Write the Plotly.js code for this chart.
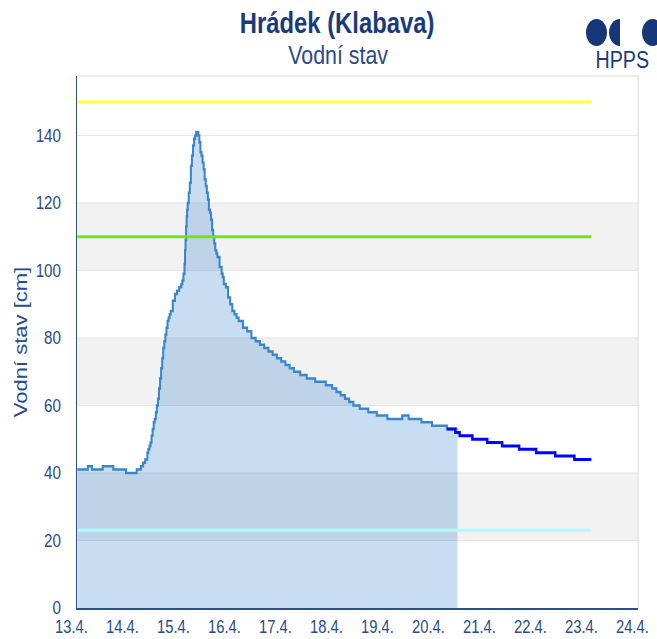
<!DOCTYPE html>
<html><head><meta charset="utf-8">
<script src="https://cdn.plot.ly/plotly-3.0.1.min.js"></script>
<style>html,body{margin:0;padding:0;background:#fff;overflow:hidden;width:657px;height:639px}
#chart{width:800px;height:639px;transform:scaleX(0.82125);transform-origin:0 0}</style>
</head><body><div id="chart"></div>
<script>
// ---- data ----
const startDay = [2024, 3, 13];           // 13.4.
const axisEndDay = '2024-04-24';
// observed water level: hours since 13.4. 00:00 and level [cm]
const obsHours  = [0, 5, 7, 12, 17, 23, 28, 30, 31, 32, 33, 33.5, 34, 34.5, 35, 35.5, 36, 36.5, 37, 37.5, 38, 38.5, 39, 39.5, 40, 40.5, 41, 41.5, 42, 42.5, 43, 43.5, 44, 45, 46, 47, 48, 49, 49.5, 50, 50.5, 50.75, 51, 51.25, 51.5, 51.75, 52, 52.5, 53, 53.5, 54, 54.5, 55, 55.5, 56, 57, 57.5, 58, 58.5, 59, 59.5, 60, 60.5, 61, 61.5, 62, 62.5, 63, 63.5, 64, 64.5, 65, 65.5, 66, 67, 68, 68.5, 69, 70, 71, 72, 73, 74, 75, 76, 78, 80, 82, 84, 86, 88, 90, 92, 94, 96, 98, 100, 102, 105, 108, 112, 117, 120, 122, 124, 126, 128, 130, 133, 137, 141, 146, 153, 156, 162, 167, 174, 179];
const obsLevels = [41, 42, 41, 42, 41, 40, 41, 42, 43, 44, 46, 47, 48, 49, 51, 53, 55, 56, 58, 60, 62, 65, 68, 71, 74, 77, 79, 81, 83, 85, 86, 87, 88, 91, 93, 94, 95, 96, 97, 99, 102, 106, 109, 113, 116, 118, 120, 123, 126, 131, 134, 137, 139, 140, 141, 140, 138, 135, 134, 132, 130, 127, 125, 123, 121, 118, 117, 115, 112, 110, 108, 106, 105, 104, 101, 99, 98, 96, 95, 92, 90, 88, 87, 86, 85, 83, 82, 80, 79, 78, 77, 76, 75, 74, 73, 72, 71, 70, 69, 68, 67, 66, 65, 64, 63, 62, 61, 60, 59, 58, 57, 56, 57, 56, 55, 54, 53, 53];
// forecast
const fcHours  = [174, 178, 180, 186, 193, 200, 208, 216, 225, 234, 242];
const fcLevels = [53, 52, 51, 50, 49, 48, 47, 46, 45, 44, 44];
// limit levels
const limitLevels = [150, 110, 23];
const limitColors = ['#ffff55', '#66ee00', '#aaffff'];
const limitHours  = [0, 242];
// alternate bands
const bandFrom = [20, 60, 100];
const bandTo   = [40, 80, 120];

// ---- helpers ----
function hToDate(h) {
  const d = new Date(Date.UTC(startDay[0], startDay[1], startDay[2]) + h * 3600000);
  return d.toISOString().slice(0, 16).replace('T', ' ');
}
const S = 0.82125;                       // horizontal squeeze of the page
const font = '"Liberation Sans", Arial, sans-serif';
const navy = '#2b4a8b';
const ML = 94, MR = 23, MT = 76, MB = 31, W = 800, H = 639;
const PW = W - ML - MR, PH = H - MT - MB;

const traces = [
  {
    x: obsHours.map(hToDate), y: obsLevels, type: 'scatter', mode: 'lines',
    line: {color: '#3a86c8', width: 2.5, shape: 'hv'},
    fill: 'tozeroy', fillcolor: 'rgba(44,123,200,0.26)', hoverinfo: 'skip'
  },
  {
    x: fcHours.map(hToDate), y: fcLevels, type: 'scatter', mode: 'lines',
    line: {color: '#0000ff', width: 3, shape: 'hv'}, hoverinfo: 'skip'
  }
];
limitLevels.forEach((v, i) => traces.push({
  x: limitHours.map(hToDate), y: [v, v], type: 'scatter', mode: 'lines',
  line: {color: limitColors[i], width: 3}, hoverinfo: 'skip'
}));

// screen px (after squeeze) -> paper coords
const PX = px => (px / S - ML) / PW, PY = py => (H - MB - py) / PH;
function halfDisc(flatX, rx, cy, ry, dir) {
  const k = 0.5523, a = PX(flatX), r = dir * rx / S / PW, top = PY(cy - ry), bot = PY(cy + ry), c = PY(cy), kr = k * ry / PH;
  return `M ${a},${top} C ${a + k * r},${top} ${a + r},${c + kr} ${a + r},${c} C ${a + r},${c - kr} ${a + k * r},${bot} ${a},${bot} Z`;
}

const shapes = bandFrom.map((b, i) => ({
  type: 'rect', xref: 'paper', yref: 'y', x0: 0, x1: 1, y0: b, y1: bandTo[i],
  fillcolor: '#f2f2f2', line: {width: 0}, layer: 'below'
}));
shapes.push({type: 'line', xref: 'paper', yref: 'paper', x0: 0, x1: 1, y0: 1, y1: 1, line: {color: '#d6d6d6', width: 1}});
shapes.push({type: 'line', xref: 'paper', yref: 'paper', x0: 1, x1: 1, y0: 0, y1: 1, line: {color: '#d6d6d6', width: 1}});
// HPPS logo
const logo = '#17367a';
shapes.push({type: 'circle', xref: 'paper', yref: 'paper', x0: PX(586), x1: PX(607), y0: PY(46), y1: PY(19), fillcolor: logo, line: {width: 0}});
shapes.push({type: 'path', xref: 'paper', yref: 'paper', path: halfDisc(620, 11, 32.5, 13.5, -1), fillcolor: logo, line: {width: 0}});
shapes.push({type: 'circle', xref: 'paper', yref: 'paper', x0: PX(642), x1: PX(663), y0: PY(46), y1: PY(19), fillcolor: logo, line: {width: 0}});

const layout = {
  width: W, height: H,
  margin: {l: ML, r: MR, t: MT, b: MB, pad: 0},
  paper_bgcolor: '#ffffff', plot_bgcolor: '#ffffff',
  showlegend: false,
  font: {family: font, color: navy},
  xaxis: {
    type: 'date', range: [hToDate(0), axisEndDay],
    tick0: hToDate(0), dtick: 86400000, tickformat: '%-d.%-m.',
    showgrid: false, zeroline: false, showline: true, linecolor: '#2f4d8c', linewidth: 2,
    ticks: '', tickfont: {family: font, size: 18, color: navy}, ticklabelshift: -7, ticklabelstandoff: 1
  },
  yaxis: {
    range: [0, 157.6], tick0: 0, dtick: 20,
    showgrid: true, gridcolor: '#e2e2e2', gridwidth: 1, zeroline: false,
    showline: true, linecolor: '#2f4d8c', linewidth: 2,
    ticks: '', tickfont: {family: font, size: 18.5, color: navy}, ticklabelstandoff: 14,
    title: {text: 'Vodní stav [cm]', font: {family: font, size: 22, color: navy}, standoff: 4}
  },
  shapes: shapes,
  annotations: [
    {xref: 'paper', yref: 'paper', x: PX(337), y: PY(23), xanchor: 'center', yanchor: 'middle', showarrow: false,
     text: '<b>Hrádek (Klabava)</b>', font: {family: font, size: 29, color: '#1b3a7a'}},
    {xref: 'paper', yref: 'paper', x: PX(338), y: PY(55), xanchor: 'center', yanchor: 'middle', showarrow: false,
     text: 'Vodní stav', font: {family: font, size: 26, color: navy}},
    {xref: 'paper', yref: 'paper', x: PX(622), y: PY(59), xanchor: 'center', yanchor: 'middle', showarrow: false,
     text: 'HPPS', font: {family: font, size: 24, color: '#1b3a7a'}}
  ]
};

Plotly.newPlot('chart', traces, layout, {staticPlot: true, displayModeBar: false});
</script>
</body></html>
